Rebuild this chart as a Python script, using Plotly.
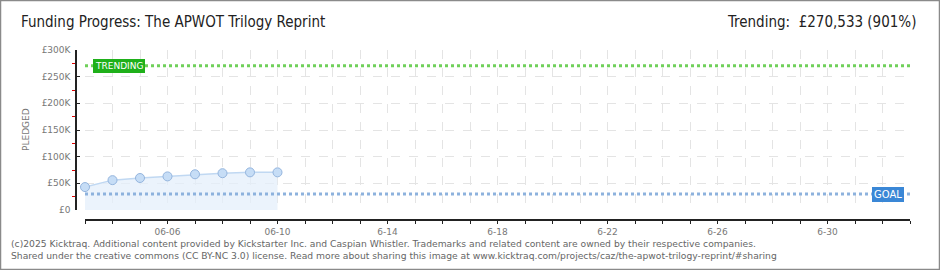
import plotly.graph_objects as go

# ---- data ----
dates = ["2025-06-03", "2025-06-04", "2025-06-05", "2025-06-06",
         "2025-06-07", "2025-06-08", "2025-06-09", "2025-06-10"]
pledged = [43000, 56000, 60000, 63000, 67000, 69000, 70600, 70600]
goal = 30000
trending = 270533
trending_pct = 901

tick_dates = ["2025-06-%02d" % d for d in range(3, 31)] + ["2025-07-01", "2025-07-02", "2025-07-03"]
tick_label_map = {"2025-06-06": "06-06", "2025-06-10": "06-10", "2025-06-14": "6-14",
                  "2025-06-18": "6-18", "2025-06-22": "6-22", "2025-06-26": "6-26",
                  "2025-06-30": "6-30"}
tick_labels = [tick_label_map.get(d, "") for d in tick_dates]
y_tickvals = [0, 50000, 100000, 150000, 200000, 250000, 300000]
y_ticklabels = ["£0", "£50K", "£100K", "£150K", "£200K", "£250K", "£300K"]

W, H = 940, 270
L, R, T, B = 76, 30, 50, 50
PW = W - L - R      # 834
PH = H - T - B      # 170


def px(x):
    return (x - L) / PW


def py(y):
    return (H - B - y) / PH


TITLE_FONT = "DejaVu Sans Condensed, Liberation Sans Narrow, sans-serif"

fig = go.Figure()

fig.add_trace(go.Scatter(
    x=dates, y=pledged, mode="lines+markers",
    fill="tozeroy", fillcolor="rgba(228,239,251,0.75)",
    line=dict(color="#c0d8f2", width=1.5),
    marker=dict(size=9, color="#c6ddf6", line=dict(color="#94b5de", width=1)),
    cliponaxis=False,
    hoverinfo="skip", showlegend=False,
))

shapes = []
# trending line and goal line
shapes.append(dict(type="line", xref="x domain", yref="y", x0=0, x1=1,
                   y0=trending, y1=trending,
                   line=dict(color="#6fd05a", width=3, dash="dot"), layer="above"))
shapes.append(dict(type="line", xref="x domain", yref="y", x0=0, x1=1,
                   y0=goal, y1=goal,
                   line=dict(color="#8db2dd", width=3, dash="dot"), layer="above"))
# outer border
shapes.append(dict(type="rect", xref="paper", yref="paper",
                   x0=px(0.5), x1=px(W - 0.5), y0=py(H - 0.5), y1=py(0.5),
                   line=dict(color="#8a8a8a", width=1.5), fillcolor="rgba(0,0,0,0)"))

annotations = [
    dict(text="Funding Progress: The APWOT Trilogy Reprint", xref="paper", yref="paper",
         x=px(19), y=py(22), xanchor="left", yanchor="middle", showarrow=False,
         font=dict(family=TITLE_FONT, size=15, color="#222")),
    dict(text="Trending:  £%s (%d%%)" % (f"{trending:,}", trending_pct), xref="paper", yref="paper",
         x=px(918), y=py(22), xanchor="right", yanchor="middle", showarrow=False,
         font=dict(family=TITLE_FONT, size=15, color="#222")),
    dict(text="TRENDING", xref="paper", yref="y", x=px(93), y=trending,
         xanchor="left", yanchor="middle", showarrow=False,
         bgcolor="#1fb01a", bordercolor="#1fb01a", borderpad=1,
         font=dict(family="DejaVu Sans", size=9, color="white")),
    dict(text="GOAL", xref="paper", yref="y", x=px(904), y=goal,
         xanchor="right", yanchor="middle", showarrow=False,
         bgcolor="#3a87d6", bordercolor="#3a87d6", borderpad=1,
         font=dict(family="DejaVu Sans", size=10, color="white")),
    dict(text="PLEDGED", xref="paper", yref="paper", x=px(26), y=py(130),
         xanchor="center", yanchor="middle", textangle=-90, showarrow=False,
         font=dict(family="DejaVu Sans", size=9, color="#777")),
    dict(text="(c)2025 Kicktraq. Additional content provided by Kickstarter Inc. and Caspian Whistler. "
              "Trademarks and related content are owned by their respective companies.",
         xref="paper", yref="paper", x=px(9), y=py(243), xanchor="left", yanchor="middle",
         showarrow=False, font=dict(family="DejaVu Sans", size=9.2, color="#666")),
    dict(text="Shared under the creative commons (CC BY-NC 3.0) license. Read more about sharing this image at "
              "www.kicktraq.com/projects/caz/the-apwot-trilogy-reprint/#sharing",
         xref="paper", yref="paper", x=px(9), y=py(255), xanchor="left", yanchor="middle",
         showarrow=False, font=dict(family="DejaVu Sans", size=9.2, color="#666")),
]

fig.update_layout(
    width=W, height=H,
    margin=dict(l=L, r=R, t=T, b=B),
    paper_bgcolor="white", plot_bgcolor="white",
    shapes=shapes, annotations=annotations,
    xaxis=dict(
        type="date", range=["2025-06-03", "2025-07-03"],
        domain=[px(85), 1],
        anchor="free", position=0,
        tickvals=tick_dates, ticktext=tick_labels,
        ticks="outside", ticklen=3, tickcolor="#222", tickwidth=1,
        showline=True, linecolor="#222", linewidth=1.5,
        showgrid=True, gridcolor="#e4e4e4", griddash="dash", gridwidth=1,
        zeroline=False,
        tickfont=dict(family="DejaVu Sans", size=9, color="#777"),
    ),
    yaxis=dict(
        range=[0, 300000], domain=[py(210), 1],
        anchor="free", position=0,
        tickvals=y_tickvals, ticktext=y_ticklabels,
        ticks="inside", ticklen=3, tickcolor="#222",
        minor=dict(tickvals=[25000, 75000, 125000, 175000, 225000, 275000],
                   ticks="outside", ticklen=3, tickcolor="#e00000", showgrid=False),
        showline=True, linecolor="#222", linewidth=1.5,
        showgrid=True, gridcolor="#e4e4e4", griddash="dash",
        zeroline=False,
        tickfont=dict(family="DejaVu Sans", size=9, color="#777"),
        ticklabelstandoff=3,
    ),
)

fig.write_html("out.html")
